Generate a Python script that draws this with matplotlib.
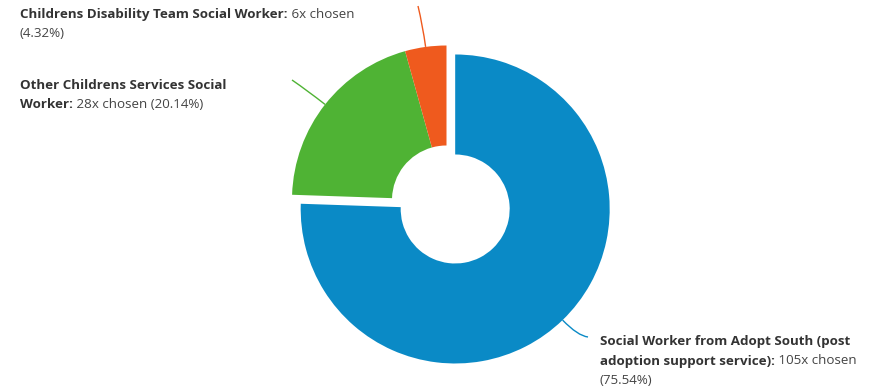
import numpy as np
import matplotlib
matplotlib.use("Agg")
import matplotlib.pyplot as plt
from matplotlib.path import Path
from matplotlib.patches import PathPatch

# ---- data ----
categories = ["Social Worker from Adopt South (post adoption support service)",
              "Other Childrens Services Social Worker",
              "Childrens Disability Team Social Worker"]
counts = [105, 28, 6]
colors = ["#0a8ac6", "#4fb334", "#ef5a1e"]
label_lines = [
    [("Social Worker from Adopt South (post", ""),
     ("adoption support service):", " {n}x chosen"),
     ("", "({p})")],
    [("Other Childrens Services Social", ""),
     ("Worker:", " {n}x chosen ({p})")],
    [("Childrens Disability Team Social Worker:", " {n}x chosen"),
     ("", "({p})")],
]

W, H = 881, 389
fig = plt.figure(figsize=(W / 100, H / 100), dpi=100)
ax = fig.add_axes([0, 0, 1, 1])

cx, cy_px, R = 446.5, 200.0, 154.5
cy = H - cy_px
explode = [12.5, 0, 0]  # absolute offset in axis (pixel) units

wedges, _ = ax.pie(counts, colors=colors, startangle=90, counterclock=False,
                   radius=R, center=(cx, cy), explode=explode,
                   wedgeprops=dict(width=R - 54.5, linewidth=0))
ax.set_xlim(0, W)
ax.set_ylim(0, H)
ax.set_aspect('equal')
ax.axis('off')

total = sum(counts)
font = ['Open Sans', 'DejaVu Sans']
fs = 9.65
tc = '#333333'

# label anchor positions in pixel coords (x, y of first line centre)
anchors = [(600, 342), (20, 85), (20, 14)]
line_gap = 19
# connector endpoints (pixel)
conn_end = [(588, 337), (292, 80), (418, 6)]

fig.canvas.draw()
renderer = fig.canvas.get_renderer()

for i, w in enumerate(wedges):
    n = counts[i]
    p = f"{100 * n / total:.2f}%"
    x0, y0 = anchors[i]
    for j, (b, r) in enumerate(label_lines[i]):
        yy = H - (y0 + j * line_gap)
        x = x0
        if b:
            t = ax.text(x, yy, b, fontsize=fs, family=font, fontweight='bold',
                        color=tc, va='center', ha='left')
            bb = t.get_window_extent(renderer)
            x = x0 + bb.width
        if r:
            ax.text(x, yy, r.format(n=n, p=p), fontsize=fs, family=font,
                    color='#444444', va='center', ha='left')
    # connector
    mid = np.deg2rad((w.theta1 + w.theta2) / 2)
    wc = w.center
    sx = wc[0] + R * np.cos(mid)
    sy = wc[1] + R * np.sin(mid)
    ctrlx = wc[0] + (R + 22) * np.cos(mid)
    ctrly = wc[1] + (R + 22) * np.sin(mid)
    ex, ey = conn_end[i][0], H - conn_end[i][1]
    path = Path([(sx, sy), (ctrlx, ctrly), (ex, ey)],
                [Path.MOVETO, Path.CURVE3, Path.CURVE3])
    ax.add_patch(PathPatch(path, fill=False, edgecolor=colors[i], lw=1.0))

fig.savefig("out.png", dpi=100)
